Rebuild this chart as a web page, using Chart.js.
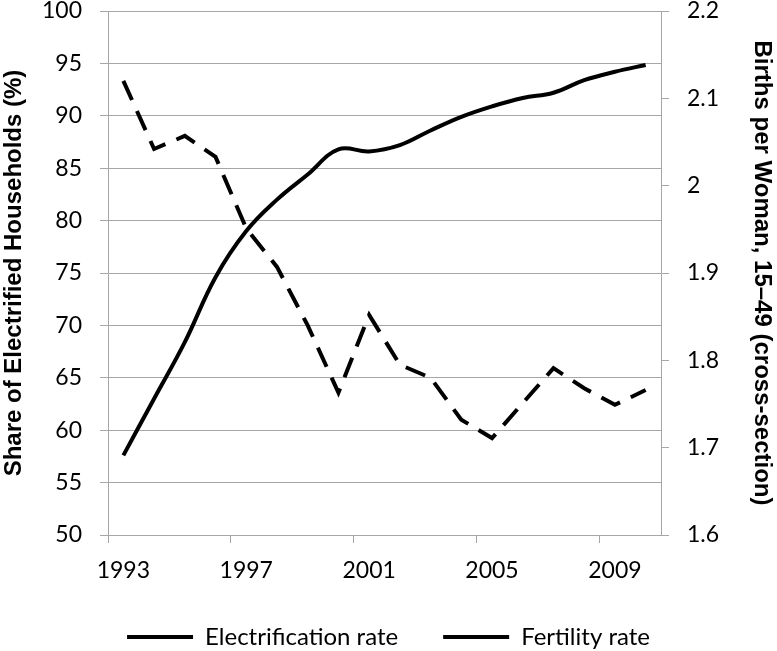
<!DOCTYPE html>
<html>
<head>
<meta charset="utf-8">
<script src="https://cdn.jsdelivr.net/npm/chart.js@4"></script>
<style>
  html, body { margin: 0; padding: 0; background: #fff; overflow: hidden; }
  #myChart { display: block; }
</style>
</head>
<body>
<canvas id="myChart" width="777" height="651"></canvas>
<script>
const years = ['1993', '1994', '1995', '1996', '1997', '1998', '1999', '2000', '2001',
  '2002', '2003', '2004', '2005', '2006', '2007', '2008', '2009', '2010'];

// share of electrified households, %
const electrification = [57.6, 63.0, 68.4, 74.6, 79.0, 82.0, 84.4, 86.8, 86.6,
  87.2, 88.6, 89.9, 90.9, 91.7, 92.2, 93.4, 94.2, 94.85];

// births per woman, 15-49
const fertility = [2.12, 2.042, 2.057, 2.033, 1.951, 1.907, 1.84, 1.763, 1.852,
  1.795, 1.78, 1.732, 1.711, 1.751, 1.791, 1.768, 1.749, 1.766];

const gridGray = '#a6a6a6';
const tickFont = { family: 'Lato', size: 23, lineHeight: 1 };
const titleFont = { family: 'Liberation Sans', size: 24, weight: 'bold', lineHeight: 1.2 };

// keep the y axes from reserving extra room above/below the plot
const fitY = width => s => {
  s.width = width;
  s.paddingTop = 11;
  s.paddingBottom = 11;
};

const ctx = document.getElementById('myChart');

new Chart(ctx, {
  type: 'line',
  data: {
    labels: years,
    datasets: [
      {
        label: 'Electrification rate',
        data: electrification,
        yAxisID: 'yLeft',
        borderColor: '#000',
        backgroundColor: '#000',
        borderWidth: 4,
        tension: 0.4,
        pointRadius: 0,
        fill: false,
      },
      {
        label: 'Fertility rate',
        data: fertility,
        yAxisID: 'yRight',
        borderColor: '#000',
        backgroundColor: '#000',
        borderWidth: 4,
        borderDash: [21, 12],
        borderCapStyle: 'butt',
        tension: 0,
        pointRadius: 0,
        fill: false,
      },
    ],
  },
  options: {
    responsive: false,
    animation: false,
    layout: { autoPadding: false, padding: { top: 11, left: 0, right: 0, bottom: 0 } },
    plugins: {
      tooltip: { enabled: false },
      legend: {
        display: true,
        position: 'bottom',
        maxHeight: 71,
        labels: {
          usePointStyle: true,
          pointStyle: 'line',
          pointStyleWidth: 66,
          padding: 45,
          color: '#000',
          font: { family: 'Lato', size: 24 },
        },
      },
    },
    scales: {
      x: {
        type: 'category',
        offset: true,
        afterFit: s => { s.height = 45; },
        grid: {
          offset: true,
          drawOnChartArea: false,
          tickLength: 8,
          color: c => (c.index !== undefined && c.index % 4 === 0 ? gridGray : 'rgba(0,0,0,0)'),
          tickColor: c => (c.index !== undefined && c.index % 4 === 0 ? gridGray : 'rgba(0,0,0,0)'),
        },
        border: { display: true, color: gridGray },
        ticks: {
          autoSkip: false,
          maxRotation: 0,
          padding: 16,
          color: '#000',
          font: tickFont,
          callback: (v, i) => (i % 4 === 0 ? years[i] : ''),
        },
      },
      yLeft: {
        type: 'linear',
        position: 'left',
        min: 50,
        max: 100,
        afterFit: fitY(108),
        ticks: { stepSize: 5, padding: 18, color: '#000', font: tickFont },
        grid: { color: gridGray, tickLength: 8 },
        border: { display: true, color: gridGray },
        title: {
          display: true,
          text: 'Share of Electrified Households (%)',
          color: '#000',
          font: titleFont,
          padding: { top: 0, bottom: 0 },
        },
      },
      yRight: {
        type: 'linear',
        position: 'right',
        min: 1.6,
        max: 2.2,
        afterFit: fitY(116),
        ticks: {
          stepSize: 0.1,
          padding: 18,
          color: '#000',
          font: tickFont,
          callback: v => String(+v.toFixed(1)),
        },
        grid: { drawOnChartArea: false, color: gridGray, tickLength: 8 },
        border: { display: true, color: gridGray },
        title: {
          display: true,
          text: 'Births per Woman, 15–49 (cross-section)',
          color: '#000',
          font: titleFont,
          padding: { top: 1, bottom: 0 },
        },
      },
    },
  },
});
</script>
</body>
</html>
